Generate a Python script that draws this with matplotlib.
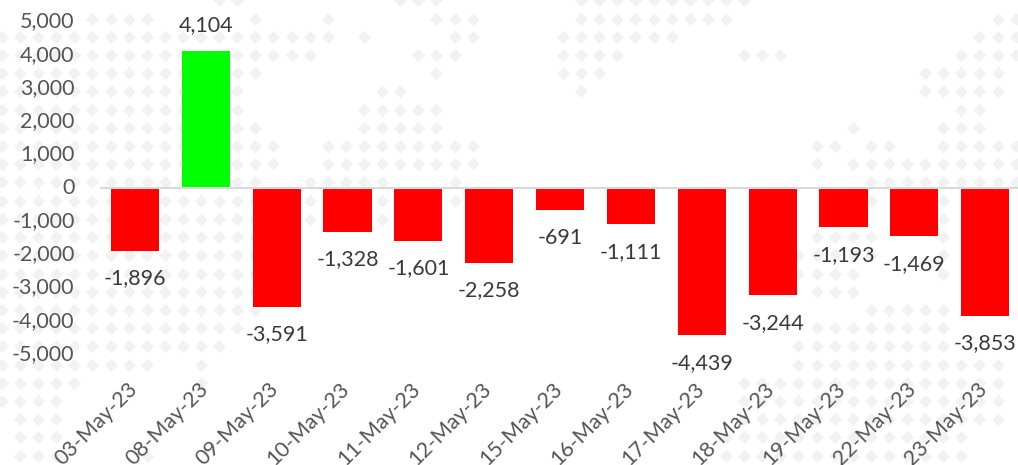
import matplotlib
matplotlib.use('Agg')
import matplotlib.pyplot as plt
from matplotlib.transforms import ScaledTranslation

dates = ['03-May-23', '08-May-23', '09-May-23', '10-May-23', '11-May-23', '12-May-23', '15-May-23',
         '16-May-23', '17-May-23', '18-May-23', '19-May-23', '22-May-23', '23-May-23']
values = [-1896, 4104, -3591, -1328, -1601, -2258, -691, -1111, -4439, -3244, -1193, -1469, -3853]
yticks = [5000, 4000, 3000, 2000, 1000, 0, -1000, -2000, -3000, -4000, -5000]

# faded world map behind the chart: row -> spans of dot columns
map_rows = [
    [(12, 13), (22, 24), (32, 41)],
    [(5, 8), (14, 14), (18, 18), (24, 26), (32, 40), (55, 56)],
    [(0, 18), (20, 20), (25, 26), (31, 37), (54, 56)],
    [(0, 17), (23, 25), (31, 34), (41, 43), (53, 56)],
    [(0, 14), (24, 24), (31, 33), (51, 55)],
    [(0, 13), (21, 22), (32, 32), (51, 55)],
    [(0, 13), (20, 24), (53, 54)],
    [(0, 14), (20, 24), (47, 47), (52, 54)],
    [(0, 15), (18, 26), (45, 46), (48, 49), (52, 56)],
    [(0, 15), (18, 26), (45, 45), (47, 56)],
    [(0, 14), (17, 21), (25, 25), (48, 56)],
    [(0, 17), (21, 21), (25, 25), (48, 48), (52, 52)],
    [(0, 17), (21, 21), (52, 52)],
    [(0, 14), (45, 48), (52, 52)],
    [(0, 14), (44, 48), (52, 52)],
    [(0, 14), (44, 47), (52, 52)],
    [(0, 14), (45, 47)],
    [(0, 14), (48, 52)],
    [(0, 13), (45, 52)],
    [(0, 12), (44, 52)],
    [(0, 8), (11, 11), (44, 55)],
    [(0, 4), (11, 11), (41, 55)],
    [(0, 3), (41, 55)],
    [(1, 3), (41, 55)],
    [(1, 3), (40, 53)],
    [(1, 3), (8, 8), (40, 53)],
]

W, H = 1018, 465
plt.rcParams['font.family'] = ['Lato', 'DejaVu Sans']

fig = plt.figure(figsize=(W / 100, H / 100), dpi=100)

bg = fig.add_axes([0, 0, 1, 1])
bg.set_xlim(0, W)
bg.set_ylim(H, 0)
bg.axis('off')
xs, ys = [], []
for r, spans in enumerate(map_rows):
    for c0, c1 in spans:
        for c in range(c0, c1 + 1):
            xs.append(2 + 18.1 * c)
            ys.append(0.5 + 18.2 * r)
bg.scatter(xs, ys, marker='D', s=44, color='#f2f2f2', linewidths=0)

ax = fig.add_axes([99.6 / W, 1 - 353.8 / H, 921 / W, 332.6 / H])
ax.patch.set_alpha(0)
pos = list(range(len(dates)))
colors = ['#00ff00' if v > 0 else '#ff0000' for v in values]
ax.bar(pos, values, width=0.68, color=colors, zorder=2)

ax.set_xlim(-0.5, len(dates) - 0.5)
ax.set_ylim(-5000, 5000)
ax.set_yticks(yticks)
ax.set_yticklabels([f'{v:,}' for v in yticks], fontsize=15.5, color='#555555')
ax.set_xticks(pos)
ax.set_xticklabels(dates, fontsize=15.5, color='#555555', rotation=45, ha='right', va='top',
                   rotation_mode='anchor')
ax.tick_params(axis='y', length=0, pad=18)
ax.tick_params(axis='x', length=0, pad=18)
for s in ['top', 'left', 'right', 'bottom']:
    ax.spines[s].set_visible(False)
ax.axhline(0, color='#d9d9d9', lw=1.5, zorder=3)
shift = ScaledTranslation(-8 / 100, 0, fig.dpi_scale_trans)
for lab in ax.get_xticklabels():
    lab.set_transform(lab.get_transform() + shift)
up = ScaledTranslation(0, 1.8 / 100, fig.dpi_scale_trans)
for lab in ax.get_yticklabels():
    lab.set_transform(lab.get_transform() + up)

for p, v in zip(pos, values):
    off = 18.5 if v > 0 else -19.8
    ax.annotate(f'{v:,}', (p, v), xytext=(0, off), textcoords='offset points', ha='center',
                va='center', fontsize=15.5, color='#3a3a3a')

fig.savefig('out.png', dpi=100)
